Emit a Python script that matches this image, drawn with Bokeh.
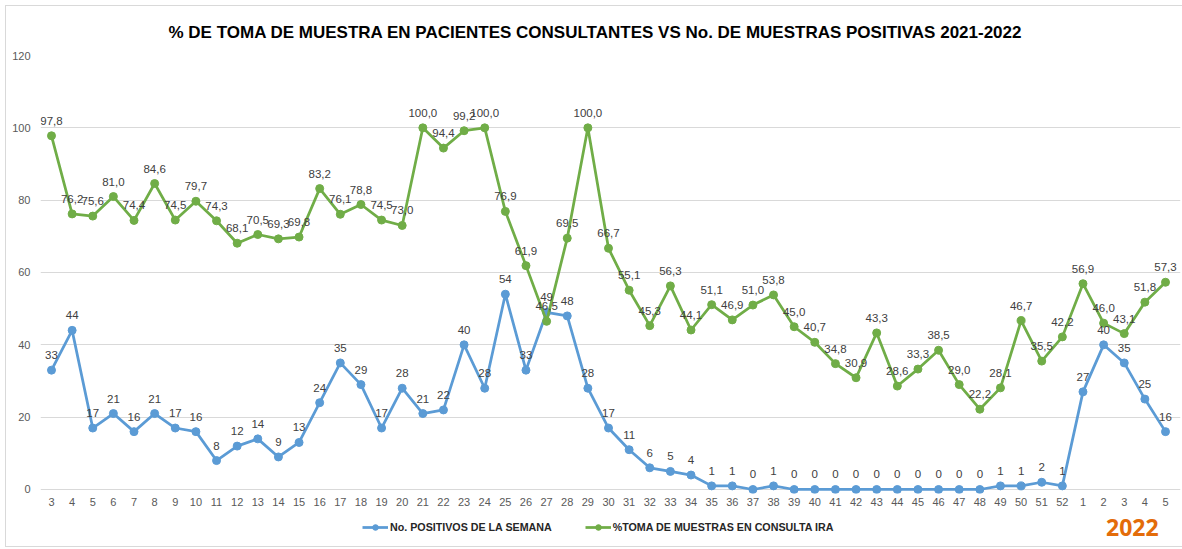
from bokeh.plotting import figure
from bokeh.layouts import column
from bokeh.models import (FixedTicker, Label, Legend, LegendItem, ColumnDataSource)
from bokeh.embed import file_html
from bokeh.resources import INLINE

weeks = ["3", "4", "5", "6", "7", "8", "9", "10", "11", "12", "13", "14", "15", "16", "17", "18", "19", "20",
         "21", "22", "23", "24", "25", "26", "27", "28", "29", "30", "31", "32", "33", "34", "35", "36", "37",
         "38", "39", "40", "41", "42", "43", "44", "45", "46", "47", "48", "49", "50", "51", "52",
         "1", "2", "3", "4", "5"]
positivos = [33, 44, 17, 21, 16, 21, 17, 16, 8, 12, 14, 9, 13, 24, 35, 29, 17, 28,
             21, 22, 40, 28, 54, 33, 49, 48, 28, 17, 11, 6, 5, 4, 1, 1, 0,
             1, 0, 0, 0, 0, 0, 0, 0, 0, 0, 0, 1, 1, 2, 1,
             27, 40, 35, 25, 16]
toma = [97.8, 76.2, 75.6, 81.0, 74.4, 84.6, 74.5, 79.7, 74.3, 68.1, 70.5, 69.3, 69.8, 83.2, 76.1, 78.8, 74.5, 73.0,
        100.0, 94.4, 99.2, 100.0, 76.9, 61.9, 46.5, 69.5, 100.0, 66.7, 55.1, 45.3, 56.3, 44.1, 51.1, 46.9, 51.0,
        53.8, 45.0, 40.7, 34.8, 30.9, 43.3, 28.6, 33.3, 38.5, 29.0, 22.2, 28.1, 46.7, 35.5, 42.2,
        56.9, 46.0, 43.1, 51.8, 57.3]
y_ticks = [0, 20, 40, 60, 80, 100, 120]

title_text = "% DE TOMA DE MUESTRA EN PACIENTES CONSULTANTES VS No. DE MUESTRAS POSITIVAS 2021-2022"
serie1 = "No. POSITIVOS DE LA SEMANA"
serie2 = "%TOMA DE MUESTRAS EN CONSULTA IRA"
year_text = "2022"

FONT = "Liberation Sans"
BLUE = "#5B9BD5"
GREEN = "#70AD47"
NAN = float("nan")

idx = list(range(len(weeks)))
src = ColumnDataSource(dict(
    x=idx,
    pos=positivos,
    toma=toma,
    pos_lbl=[str(v) for v in positivos],
    toma_lbl=[f"{v:.1f}".replace(".", ",") for v in toma],
))

W = 1182
p = figure(width=W, height=511, output_backend="svg", toolbar_location=None,
           x_range=(-0.533, 54.727), y_range=(-1.106, 120),
           min_border_left=40, min_border_right=2, min_border_top=55, min_border_bottom=18)
p.outline_line_color = None
p.background_fill_color = None
p.border_fill_color = None

p.title.text = title_text
p.title.align = "left"
p.title.offset = 128
p.title.standoff = 28
p.title.text_font = FONT
p.title.text_font_style = "bold"
p.title.text_font_size = "17px"
p.title.text_color = "#000000"

p.xgrid.grid_line_color = None
p.ygrid.grid_line_color = "#d9d9d9"
p.ygrid.grid_line_width = 1
p.yaxis.ticker = FixedTicker(ticks=y_ticks)
p.xaxis.ticker = FixedTicker(ticks=idx)
p.xaxis.major_label_overrides = {i: w for i, w in enumerate(weeks)}
for ax in (p.xaxis, p.yaxis):
    ax.axis_line_color = None
    ax.major_tick_line_color = None
    ax.minor_tick_line_color = None
    ax.major_tick_out = 0
    ax.major_tick_in = 0
    ax.minor_tick_out = 0
    ax.major_label_text_font = FONT
    ax.major_label_text_font_size = "11px"
    ax.major_label_text_color = "#595959"
p.yaxis.major_label_standoff = 10
p.xaxis.major_label_standoff = 4

l1 = p.line("x", "pos", source=src, line_color=BLUE, line_width=2.75)
m1 = p.scatter("x", "pos", source=src, size=8, fill_color=BLUE, line_color=BLUE)
l2 = p.line("x", "toma", source=src, line_color=GREEN, line_width=2.75)
m2 = p.scatter("x", "toma", source=src, size=8, fill_color=GREEN, line_color=GREEN)

for col, ycol in (("pos_lbl", "pos"), ("toma_lbl", "toma")):
    p.text("x", ycol, text=col, source=src, text_align="center", text_baseline="bottom",
           y_offset=-11, text_font_size="11.5px", text_color="#404040",
           text_font={"value": FONT})

# legend strip
p2 = figure(width=W, height=38, output_backend="svg", toolbar_location=None,
            x_range=(0, W), y_range=(0, 38), x_axis_type=None, y_axis_type=None,
            min_border=0)
p2.outline_line_color = None
p2.background_fill_color = None
p2.border_fill_color = None
p2.xgrid.grid_line_color = None
p2.ygrid.grid_line_color = None
d1 = p2.line(x=[NAN], y=[NAN], line_color=BLUE, line_width=2.75)
e1 = p2.scatter(x=[NAN], y=[NAN], size=8, fill_color=BLUE, line_color=BLUE)
d2 = p2.line(x=[NAN], y=[NAN], line_color=GREEN, line_width=2.75)
e2 = p2.scatter(x=[NAN], y=[NAN], size=8, fill_color=GREEN, line_color=GREEN)
legend = Legend(items=[LegendItem(label=serie1, renderers=[d1, e1]),
                       LegendItem(label=serie2, renderers=[d2, e2])],
                orientation="horizontal", location=(322, 15),
                label_text_font=FONT, label_text_font_style="bold",
                label_text_font_size="10.7px", label_text_color="#262626",
                glyph_width=26, glyph_height=14, label_height=14, label_standoff=2, spacing=33,
                border_line_color=None, background_fill_alpha=0, padding=0, margin=0)
p2.add_layout(legend, "center")
p2.add_layout(Label(x=1132, y=22.5, text=year_text, text_align="center",
                    text_baseline="middle", text_font="Open Sans", text_font_style="bold",
                    text_font_size="23px", text_color="#E36C0A"))

layout = column(p, p2, spacing=0,
                styles={"box-shadow": "inset 5px 5px 0 0 #ffffff, inset 0 -2px 0 0 #ffffff, "
                                      "inset 6px 6px 0 0 #d9d9d9, inset 0 -3px 0 0 #d9d9d9"})

open("out.html", "w").write(file_html(layout, INLINE))
